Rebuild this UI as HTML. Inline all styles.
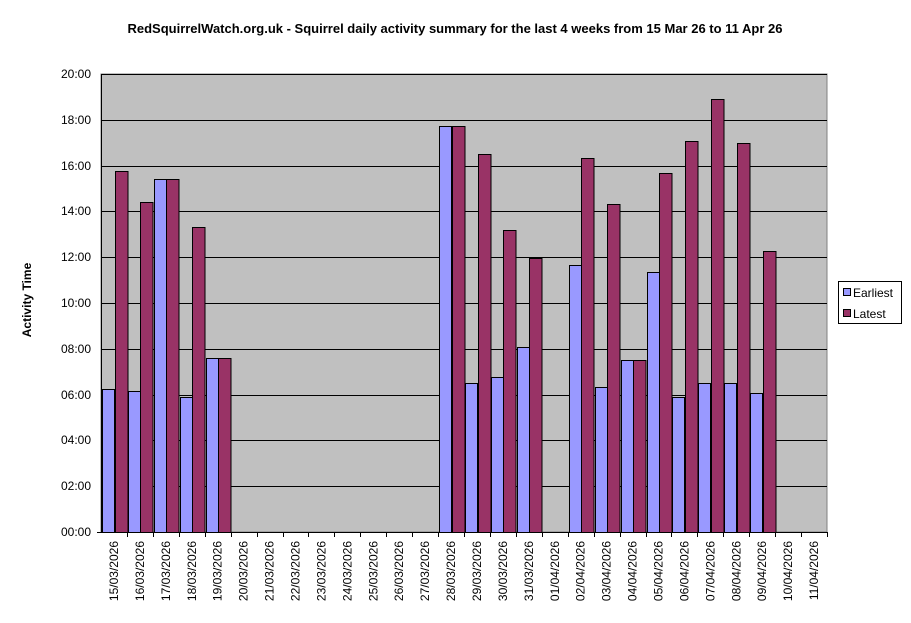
<!DOCTYPE html>
<html><head><style>body{margin:0;background:#fff}svg{display:block;font-family:"Liberation Sans",Arial,sans-serif}</style></head>
<body>
<svg width="911" height="623" xmlns="http://www.w3.org/2000/svg">
<text x="455" y="33" text-anchor="middle" font-size="13" font-weight="bold">RedSquirrelWatch.org.uk - Squirrel daily activity summary for the last 4 weeks from 15 Mar 26 to 11 Apr 26</text>
<rect x="101" y="74" width="726" height="458" fill="#c0c0c0" stroke="#808080"/>
<g stroke="#000" stroke-width="1">
<line x1="101" x2="827" y1="74.5" y2="74.5"/><line x1="101" x2="827" y1="120.5" y2="120.5"/><line x1="101" x2="827" y1="166.5" y2="166.5"/><line x1="101" x2="827" y1="211.5" y2="211.5"/><line x1="101" x2="827" y1="257.5" y2="257.5"/><line x1="101" x2="827" y1="303.5" y2="303.5"/><line x1="101" x2="827" y1="349.5" y2="349.5"/><line x1="101" x2="827" y1="395.5" y2="395.5"/><line x1="101" x2="827" y1="440.5" y2="440.5"/><line x1="101" x2="827" y1="486.5" y2="486.5"/>
<line x1="101.5" x2="101.5" y1="74" y2="532"/>
<line x1="97" x2="827" y1="532.5" y2="532.5"/>
</g>
<g font-size="12" text-anchor="end">
<text x="91" y="78">20:00</text><text x="91" y="124">18:00</text><text x="91" y="170">16:00</text><text x="91" y="215">14:00</text><text x="91" y="261">12:00</text><text x="91" y="307">10:00</text><text x="91" y="353">08:00</text><text x="91" y="399">06:00</text><text x="91" y="444">04:00</text><text x="91" y="490">02:00</text><text x="91" y="536">00:00</text>
</g>
<text transform="translate(31,300) rotate(-90)" text-anchor="middle" font-size="12" font-weight="bold">Activity Time</text>
<g id="bars" stroke="#000" stroke-width="1"></g>
<g id="ticks" stroke="#000"></g>
<g id="xl" font-size="12" text-anchor="end"></g>
<rect x="838.5" y="281.5" width="63" height="42" fill="#fff" stroke="#000"/>
<rect x="843.5" y="288.5" width="7" height="7" fill="#9999ff" stroke="#000"/>
<text x="853" y="297" font-size="12">Earliest</text>
<rect x="843.5" y="309.5" width="7" height="7" fill="#993366" stroke="#000"/>
<text x="853" y="318" font-size="12">Latest</text>
<script>
var d=[[389,171],[391,202],[179,179],[397,227],[358,358],null,null,null,null,null,null,null,null,[126,126],[383,154],[377,230],[347,258],null,[265,158],[387,204],[360,360],[272,173],[397,141],[383,99],[383,143],[393,251],null,null];
var b=document.getElementById('bars'),t=document.getElementById('ticks'),x=document.getElementById('xl'),ns='http://www.w3.org/2000/svg',w=726/28;
function r(X,Y,W,H,c){var e=document.createElementNS(ns,'rect');e.setAttribute('x',X);e.setAttribute('y',Y);e.setAttribute('width',W);e.setAttribute('height',H);e.setAttribute('fill',c);b.appendChild(e);}
for(var i=0;i<28;i++){var x0=101+i*w;
if(d[i]){r(Math.round(x0+1)+.5,d[i][0]+.5,12,532-d[i][0],'#9999ff');r(Math.round(x0+13.5)+.5,d[i][1]+.5,12.5,532-d[i][1],'#993366');}
var l=document.createElementNS(ns,'line');var xx=Math.round(x0+w)+.5;l.setAttribute('x1',xx);l.setAttribute('x2',xx);l.setAttribute('y1',532);l.setAttribute('y2',537);t.appendChild(l);
var dt=new Date(2026,2,15+i);var s=('0'+dt.getDate()).slice(-2)+'/'+('0'+(dt.getMonth()+1)).slice(-2)+'/2026';
var tx=document.createElementNS(ns,'text');var cx=x0+w/2+4;tx.setAttribute('transform','translate('+cx+',541) rotate(-90)');tx.textContent=s;x.appendChild(tx);}
</script>
</svg>
</body></html>
